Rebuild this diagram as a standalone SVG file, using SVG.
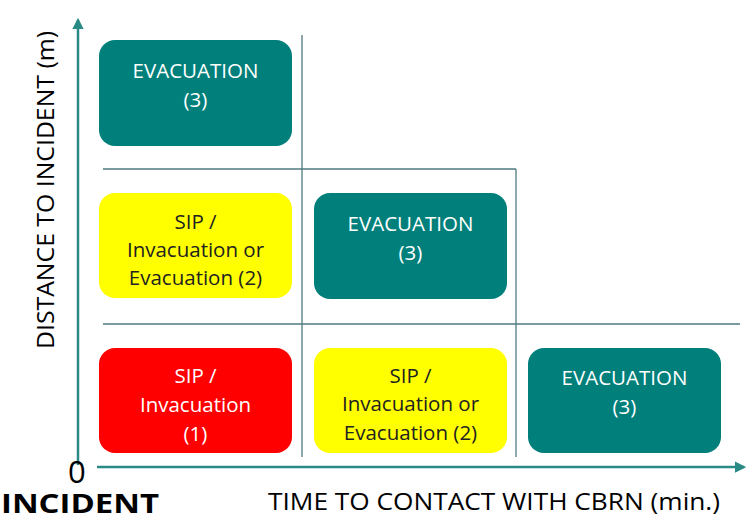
<svg xmlns="http://www.w3.org/2000/svg" width="748" height="520" viewBox="0 0 748 520">
<style>
.box{stroke:none}
.teal{fill:#007F7B}
.red{fill:#FF0000}
.yel{fill:#FFFF00}
.t{font-family:"Open Sans","Liberation Sans",sans-serif;font-size:20.5px;text-anchor:middle}
.w{fill:#ffffff}
.k{fill:#222222}
.grid{stroke:#4F7A80;stroke-width:1.3;fill:none}
.axis{stroke:#2A8A86;stroke-width:2.5;fill:none}
.lab{font-family:"Open Sans","Liberation Sans",sans-serif;fill:#000}
</style>
<defs>
<marker id="ah" viewBox="0 0 10 10" refX="8" refY="5" markerWidth="4.5" markerHeight="4.5" orient="auto" markerUnits="strokeWidth">
<path d="M0,0 L10,5 L0,10 z" fill="#2A8A86"/>
</marker>
</defs>
<rect width="748" height="520" fill="#ffffff"/>
<g id="connectors">
<line class="grid" x1="302" y1="35" x2="302" y2="457"/>
<line class="grid" x1="516" y1="169" x2="516" y2="457"/>
<line class="grid" x1="103" y1="169" x2="516" y2="169"/>
<line class="grid" x1="103" y1="324" x2="740" y2="324"/>
<line class="axis" x1="78" y1="465" x2="78" y2="20" marker-end="url(#ah)"/>
<line class="axis" x1="97" y1="467" x2="744" y2="467" marker-end="url(#ah)"/>
</g>
<g id="n1">
<rect class="box teal" x="99" y="40" width="193" height="106" rx="16"/>
<text class="t w" x="195.5" y="78">EVACUATION</text>
<text class="t w" x="195.5" y="107">(3)</text>
</g>
<g id="n2">
<rect class="box yel" x="99" y="193" width="193" height="105" rx="16"/>
<text class="t k" x="195.5" y="229">SIP /</text>
<text class="t k" x="195.5" y="257">Invacuation or</text>
<text class="t k" x="195.5" y="285">Evacuation (2)</text>
</g>
<g id="n3">
<rect class="box teal" x="314" y="193" width="193" height="106" rx="16"/>
<text class="t w" x="410.5" y="231">EVACUATION</text>
<text class="t w" x="410.5" y="260">(3)</text>
</g>
<g id="n4">
<rect class="box red" x="99" y="348" width="193" height="105" rx="16"/>
<text class="t w" x="195.5" y="383">SIP /</text>
<text class="t w" x="195.5" y="412">Invacuation</text>
<text class="t w" x="195.5" y="441">(1)</text>
</g>
<g id="n5">
<rect class="box yel" x="314" y="348" width="193" height="105" rx="16"/>
<text class="t k" x="410.5" y="383">SIP /</text>
<text class="t k" x="410.5" y="411">Invacuation or</text>
<text class="t k" x="410.5" y="440">Evacuation (2)</text>
</g>
<g id="n6">
<rect class="box teal" x="528" y="348" width="193" height="105" rx="16"/>
<text class="t w" x="624.5" y="385">EVACUATION</text>
<text class="t w" x="624.5" y="414">(3)</text>
</g>
<g id="labels">
<text class="lab" font-size="23" text-anchor="middle" textLength="318" lengthAdjust="spacingAndGlyphs" transform="translate(54,190) rotate(-90)">DISTANCE TO INCIDENT (m)</text>
<text class="lab" font-size="31" x="68" y="483">0</text>
<text class="lab" font-size="27" font-weight="bold" x="1" y="513" textLength="158" lengthAdjust="spacingAndGlyphs">INCIDENT</text>
<text class="lab" font-size="23" x="268" y="510" textLength="452" lengthAdjust="spacingAndGlyphs">TIME TO CONTACT WITH CBRN (min.)</text>
</g>
</svg>
